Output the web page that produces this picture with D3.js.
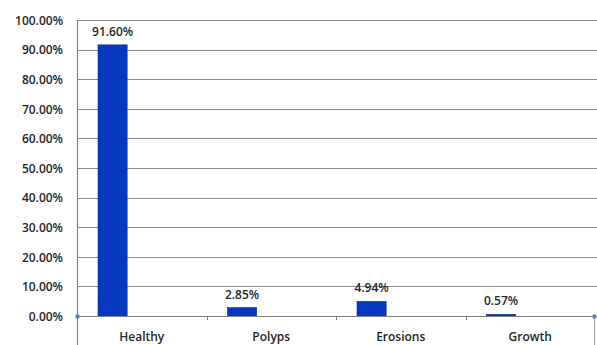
<!DOCTYPE html>
<html>
<head>
<meta charset="utf-8">
<script src="https://cdn.jsdelivr.net/npm/d3@7"></script>
<style>
html,body{margin:0;padding:0;background:#fff;overflow:hidden;}
svg{display:block;font-family:"Open Sans",Arial,sans-serif;}
</style>
</head>
<body>
<svg id="chart" width="597" height="345"></svg>
<script>
const categories = ["Healthy", "Polyps", "Erosions", "Growth"];
const values = [91.60, 2.85, 4.94, 0.57];
const yTicks = [0, 10, 20, 30, 40, 50, 60, 70, 80, 90, 100];

(function () {
const svg = d3.select("#chart");
const mLeft = 77, mRight = 595, mTop = 20, mBottom = 316;
const FONT = "Open Sans, Arial, sans-serif";

const x = d3.scaleBand().domain(categories).range([mLeft, mRight]).padding(0);
const sub = d3.scaleBand().domain(["v", "blank"]).range([0, x.bandwidth()])
  .paddingInner(0.5).paddingOuter(0.36);
const y = d3.scaleLinear().domain([0, 100]).range([mBottom, mTop]);

// gridlines
svg.append("g").selectAll("line").data(yTicks.filter(t => t > 0)).join("line")
  .attr("x1", mLeft).attr("x2", 597)
  .attr("y1", d => Math.round(y(d)) + 0.5).attr("y2", d => Math.round(y(d)) + 0.5)
  .attr("stroke", "#8c8c8c").attr("stroke-width", 1);

// y axis labels
const yAxis = d3.axisLeft(y).tickValues(yTicks).tickSize(0).tickPadding(14)
  .tickFormat(d => d3.format(".2f")(d) + "%");
const gy = svg.append("g").attr("transform", `translate(${mLeft},0)`).call(yAxis);
gy.select(".domain").remove();
gy.selectAll("text").attr("font-size", "12px").attr("fill", "#262626")
  .attr("font-family", FONT)
  .attr("font-weight", "600").attr("dy", "0.36em");

// bars
svg.append("g").selectAll("rect").data(values).join("rect")
  .attr("x", (d, i) => x(categories[i]) + sub("v"))
  .attr("width", sub.bandwidth())
  .attr("y", d => y(d))
  .attr("height", d => mBottom - y(d))
  .attr("fill", "#0638c0")
  .attr("stroke", "#0a2f9e").attr("stroke-width", 0.6);

// value labels
svg.append("g").selectAll("text").data(values).join("text")
  .attr("x", (d, i) => x(categories[i]) + sub("v") + sub.bandwidth() / 2)
  .attr("y", d => y(d) - 9)
  .attr("text-anchor", "middle")
  .attr("font-family", FONT)
  .attr("font-size", "12px").attr("font-weight", "600").attr("fill", "#262626")
  .text(d => d3.format(".2f")(d) + "%");

// x axis
const xAxis = d3.axisBottom(x).tickSize(0).tickPadding(0);
const gx = svg.append("g").attr("transform", `translate(0,${mBottom + 0.5})`).call(xAxis);
gx.select(".domain").remove();
gx.selectAll("text").attr("font-size", "12px").attr("fill", "#262626")
  .attr("font-family", FONT)
  .attr("font-weight", "600").attr("dy", null).attr("y", 24.5);

svg.append("line").attr("x1", mLeft).attr("x2", mRight)
  .attr("y1", mBottom + 0.5).attr("y2", mBottom + 0.5)
  .attr("stroke", "#808080").attr("stroke-width", 1.2);

// category boundary ticks
svg.append("g").selectAll("line").data(categories.slice(1)).join("line")
  .attr("x1", d => Math.round(x(d)) + 0.5).attr("x2", d => Math.round(x(d)) + 0.5)
  .attr("y1", mBottom).attr("y2", mBottom + 4)
  .attr("stroke", "#808080");

// left axis line (extends down)
svg.append("line").attr("x1", mLeft + 0.5).attr("x2", mLeft + 0.5)
  .attr("y1", mTop).attr("y2", 345).attr("stroke", "#808080").attr("stroke-width", 1.2);
// right border below axis
svg.append("line").attr("x1", mRight - 0.5).attr("x2", mRight - 0.5)
  .attr("y1", mBottom).attr("y2", 345).attr("stroke", "#a0a0a0").attr("stroke-width", 1);

// end markers
svg.append("g").selectAll("circle").data([mLeft + 0.5, mRight - 0.5]).join("circle")
  .attr("cx", d => d).attr("cy", mBottom + 0.5).attr("r", 2.2)
  .attr("fill", "#5b7fb8");
})();
</script>
</body>
</html>
